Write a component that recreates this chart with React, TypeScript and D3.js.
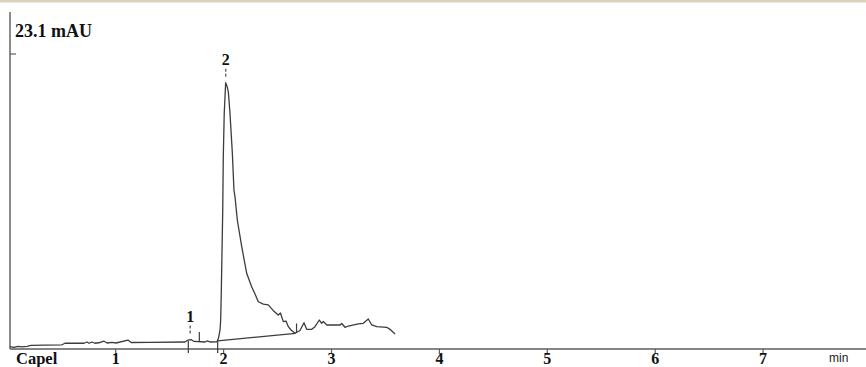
import React from "react";
import * as d3 from "d3";

const W = 866;
const H = 367;

// Chromatogram trace (time in min, absorbance in mAU)
const timeMin = [
  0.02, 0.057, 0.095, 0.132, 0.178, 0.215, 0.345, 0.502, 0.53, 0.706, 0.734, 0.753, 0.78, 0.808,
  0.855, 0.892, 0.92, 0.966, 1.003, 1.114, 1.142, 1.318, 1.642, 1.67, 1.698, 1.726, 1.828, 1.846,
  1.874, 1.939, 1.953, 1.967, 1.973, 1.979, 1.992, 1.997, 2.006, 2.019, 2.031, 2.044, 2.059, 2.081,
  2.096, 2.106, 2.127, 2.168, 2.214, 2.26, 2.291, 2.322, 2.368, 2.414, 2.461, 2.507, 2.527, 2.553,
  2.578, 2.6, 2.625, 2.662, 2.708, 2.745, 2.77, 2.817, 2.847, 2.887, 2.909, 2.924, 2.956, 3.079,
  3.095, 3.125, 3.156, 3.248, 3.295, 3.341, 3.373, 3.419, 3.512, 3.542, 3.589,
];
const absorbance = [
  0.18, 0.13, 0.2, 0.16, 0.21, 0.29, 0.31, 0.33, 0.45, 0.45, 0.55, 0.45, 0.55, 0.45,
  0.51, 0.61, 0.47, 0.52, 0.47, 0.7, 0.51, 0.52, 0.55, 0.7, 0.74, 0.59, 0.55, 0.63,
  0.55, 0.56, 0.86, 1.49, 2.27, 4.62, 10.88, 15.04, 18.48, 20.85, 20.6, 20.13, 18.48, 15.35,
  12.45, 11.9, 10.1, 8.01, 5.93, 4.88, 4.31, 3.7, 3.52, 3.45, 3.0, 2.66, 2.82, 2.14,
  2.19, 1.75, 1.49, 1.23, 1.45, 2.06, 1.54, 1.54, 1.75, 2.27, 2.01, 2.15, 1.88, 1.88,
  2.0, 1.7, 1.8, 1.96, 2.01, 2.35, 1.88, 1.75, 1.7, 1.54, 1.17,
];

// Integration baseline of peak 2
const baselineTime = [1.945, 2.666];
const baselineValue = [0.64, 1.23];

// Vertical event marks drawn up from the trace
const spikeTime = [1.775, 2.676];
const spikeFrom = [0.55, 1.25];
const spikeTo = [1.33, 2.0];

// Integration start marks crossing the axis
const startTime = [1.673, 1.945];
const startValue = [0.63, 0.64];

// Peak labels
const peakNames = ["1", "2"];
const peakTime = [1.69, 2.02];
const peakValue = [0.74, 20.85];

const xTicks = [1, 2, 3, 4, 5, 6, 7];
const yMax = 23.1;
const yLabel = "23.1 mAU";
const xName = "Capel";
const xUnit = "min";

const x = d3.scaleLinear().domain([0, 1]).range([7.8, 115.7]);
const y = d3.scaleLinear().domain([0, yMax]).range([349, 54]);

export default function App() {
  const line = d3
    .line<number>()
    .x((_, i) => x(timeMin[i]))
    .y((_, i) => y(absorbance[i]));
  const pathD = line(timeMin) || "";
  const axisColor = "#5c5c5c";
  const traceColor = "#3c3c3c";
  const serif = "'Liberation Serif', 'Times New Roman', serif";
  return (
    <svg
      width={W}
      height={H}
      style={{ position: "absolute", left: 0, top: 0, background: "#fff" }}
    >
      <rect x={0} y={0} width={W} height={2.5} fill="#ddd3bc" />
      {/* y axis */}
      <line x1={10} x2={10} y1={12} y2={y(0)} stroke={axisColor} strokeWidth={1.4} />
      <line x1={10} x2={16} y1={y(yMax)} y2={y(yMax)} stroke={axisColor} strokeWidth={1.2} />
      <text x={15} y={37} fontFamily={serif} fontWeight="bold" fontSize={18} fill="#111">
        {yLabel}
      </text>
      {/* x axis */}
      <line x1={10} x2={W} y1={y(0)} y2={y(0)} stroke={axisColor} strokeWidth={1.4} />
      {xTicks.map((t) => (
        <g key={t}>
          <line x1={x(t)} x2={x(t)} y1={y(0)} y2={y(0) + 5} stroke={axisColor} strokeWidth={1.2} />
          <text
            x={x(t)}
            y={363.5}
            textAnchor="middle"
            fontFamily={serif}
            fontWeight="bold"
            fontSize={16}
            fill="#111"
          >
            {t}
          </text>
        </g>
      ))}
      <text x={16} y={363.5} fontFamily={serif} fontWeight="bold" fontSize={16.5} fill="#111">
        {xName}
      </text>
      <text x={829} y={362} fontFamily="'Liberation Sans', Arial, sans-serif" fontSize={12} fill="#222">
        {xUnit}
      </text>
      {/* baseline */}
      <line
        x1={x(baselineTime[0])}
        y1={y(baselineValue[0])}
        x2={x(baselineTime[1])}
        y2={y(baselineValue[1])}
        stroke={traceColor}
        strokeWidth={1.2}
      />
      {/* trace */}
      <path d={pathD} fill="none" stroke={traceColor} strokeWidth={1.3} strokeLinejoin="round" />
      {spikeTime.map((t, i) => (
        <line
          key={"s" + i}
          x1={x(t)}
          x2={x(t)}
          y1={y(spikeFrom[i])}
          y2={y(spikeTo[i])}
          stroke={traceColor}
          strokeWidth={1.2}
        />
      ))}
      {startTime.map((t, i) => (
        <line
          key={"m" + i}
          x1={x(t)}
          x2={x(t)}
          y1={y(startValue[i])}
          y2={y(0) + 4}
          stroke={traceColor}
          strokeWidth={1.2}
        />
      ))}
      {peakNames.map((n, i) => {
        const px = x(peakTime[i]);
        const py = y(peakValue[i]);
        return (
          <g key={"p" + n}>
            <line
              x1={px}
              x2={px}
              y1={py - 14}
              y2={py - 5}
              stroke={traceColor}
              strokeWidth={1.1}
              strokeDasharray="3,2"
            />
            <text
              x={px}
              y={py - 18}
              textAnchor="middle"
              fontFamily={serif}
              fontWeight="bold"
              fontSize={16}
              fill="#111"
            >
              {n}
            </text>
          </g>
        );
      })}
    </svg>
  );
}
